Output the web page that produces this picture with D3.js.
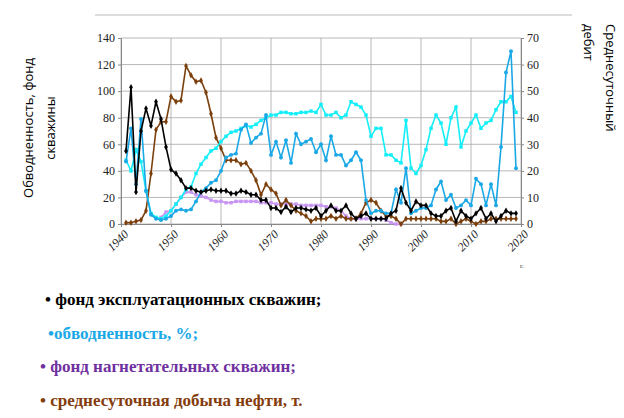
<!DOCTYPE html>
<html><head><meta charset="utf-8">
<script src="https://cdn.jsdelivr.net/npm/d3@7"></script>
<style>body{margin:0;background:#fff}</style>
</head><body>
<svg id="chart" width="624" height="418"></svg>
<script>
// годы и ряды (значения в единицах левой оси)
var years = d3.range(1941, 2020);
var fondExpl = [55,103,24,70,87,74,92,79,58,41,38,33,27,27,25,24,25,26,25,25,25,23,23,25,24,22,22,18,18,12,12,9,13,9,12,12,11,10,12,6,10,14,10,10,14,8,4,6,8,4,4,4,4,8,10,27,16,10,17,14,14,8,6,6,10,12,2,10,6,4,8,12,4,8,2,6,10,8,8];
var obvod = [48,40,56,47,25,8,5,4,6,10,15,20,26,28,38,45,50,55,57,62,66,69,70,72,74,73,75,78,80,82,82,84,84,83,83,84,84,85,84,90,82,82,84,80,82,92,90,88,82,66,72,72,52,52,48,46,78,42,38,44,56,72,82,76,60,80,88,58,70,76,82,72,76,78,86,92,92,96,84];
var debit = [47,72,30,79,25,7,4,3,4,6,10,11,10,11,17,24,27,31,33,40,50,52,53,71,75,61,65,68,82,52,62,50,63,46,68,60,62,64,54,60,48,66,52,52,44,48,54,48,18,8,10,10,8,8,26,16,42,8,10,12,12,14,26,32,18,22,12,14,18,14,34,30,14,30,14,58,114,130,42];
var nagnYears = d3.range(1948, 1997);
var fondNagn = [5,9,10,15,20,24,24,22,21,20,18,17,17,16,16,17,17,17,17,17,16,16,16,15,15,15,15,15,14,14,14,14,14,13,13,12,10,6,4,4,4,4,4,4,4,3,1,0,0];
var dobycha = [1,1,2,3,10,38,71,77,77,96,92,93,119,112,107,108,99,83,65,57,48,48,48,45,46,40,33,22,30,26,23,14,18,14,10,8,6,2,4,4,4,6,4,6,4,4,4,8,16,18,16,10,6,6,4,0,4,4,4,4,4,4,4,2,2,4,0,2,4,2,0,2,2,4,4,4,4,4,4];
var leftTicks = d3.range(0, 141, 20);
var rightTicks = d3.range(0, 71, 10);
var xTicks = d3.range(1940, 2021, 10);
var legendItems = [
  {text: '• фонд эксплуатационных скважин;', color: '#000000'},
  {text: '•обводненность, %;', color: '#1aa8e6'},
  {text: '• фонд нагнетательных скважин;', color: '#7030a0'},
  {text: '• среднесуточная добыча нефти, т.', color: '#843c0c'}
];

var svg = d3.select('#chart');
var x = d3.scaleLinear().domain([1940, 2020]).range([121, 521]);
var yL = d3.scaleLinear().domain([0, 140]).range([224, 38]);
var yR = d3.scaleLinear().domain([0, 70]).range([224, 38]);
var serif = "'Liberation Serif', 'DejaVu Serif', serif";

// рамка сверху
svg.append('line').attr('x1', 95).attr('x2', 572).attr('y1', 15).attr('y2', 15)
  .attr('stroke', '#bbb');

// сетка
svg.selectAll('.gy').data(leftTicks).enter().append('line')
  .attr('x1', 121).attr('x2', 521).attr('y1', d => yL(d)).attr('y2', d => yL(d))
  .attr('stroke', '#a6a6a6').attr('stroke-width', 0.8);
svg.selectAll('.gx').data(xTicks).enter().append('line')
  .attr('x1', d => x(d)).attr('x2', d => x(d)).attr('y1', 38).attr('y2', 224)
  .attr('stroke', '#a6a6a6').attr('stroke-width', 0.8);

var axL = svg.append('g').attr('transform', 'translate(121,0)')
  .call(d3.axisLeft(yL).tickValues(leftTicks).tickSize(3));
var axR = svg.append('g').attr('transform', 'translate(521,0)')
  .call(d3.axisRight(yR).tickValues(rightTicks).tickSize(3));
var axB = svg.append('g').attr('transform', 'translate(0,224)')
  .call(d3.axisBottom(x).tickValues(xTicks).tickFormat(d3.format('d')).tickSize(3));
[axL, axR, axB].forEach(function(a) {
  a.selectAll('path,line').attr('stroke', '#888');
  a.selectAll('text').style('font-family', serif).attr('font-size', 12).attr('fill', '#222');
});
axB.selectAll('text').attr('text-anchor', 'end').attr('dx', '-0.2em').attr('dy', '0.6em')
  .attr('font-style', 'italic').attr('transform', 'rotate(-45)');
svg.append('text').attr('x', 520).attr('y', 268).text('г.').style('font-family', serif)
  .attr('font-size', 7).attr('fill', '#444');

function series(xs, vals, color, scale, shape) {
  var data = xs.map((d, i) => [d, vals[i]]);
  svg.append('path').datum(data)
    .attr('d', d3.line().x(d => x(d[0])).y(d => scale(d[1])))
    .attr('fill', 'none').attr('stroke', color).attr('stroke-width', 1.6);
  svg.append('g').selectAll('path').data(data).enter().append('path')
    .attr('transform', d => 'translate(' + x(d[0]) + ',' + scale(d[1]) + ')')
    .attr('d', d3.symbol().type(shape).size(12)).attr('fill', color);
}
series(nagnYears, fondNagn, '#c896f2', yL, d3.symbolSquare);
series(years, dobycha, '#7b3f0c', yL, d3.symbolDiamond);
series(years, obvod, '#14eef8', yL, d3.symbolSquare);
series(years, debit, '#1aa8e6', yL, d3.symbolCircle);
series(years, fondExpl, '#000000', yL, d3.symbolDiamond);

// подписи осей
var sans = "'Open Sans', 'DejaVu Sans', sans-serif";
[['Обводненность, фонд', 33], ['скважины', 55]].forEach(function(t) {
  svg.append('text').attr('transform', 'translate(' + t[1] + ',128) rotate(-90)')
    .attr('text-anchor', 'middle').style('font-family', sans).attr('font-size', 13).text(t[0]);
});
[['Среднесуточный', 606], ['дебит', 584]].forEach(function(t) {
  svg.append('text').attr('transform', 'translate(' + t[1] + ',24) rotate(90)')
    .attr('text-anchor', 'start').style('font-family', sans).attr('font-size', 13).text(t[0]);
});

// легенда
svg.selectAll('.lg').data(legendItems).enter().append('text')
  .attr('x', (d, i) => [45, 48, 40, 40][i]).attr('y', (d, i) => 305 + i * 33.5)
  .style('font-family', serif).attr('font-weight', 'bold').attr('font-size', 17)
  .attr('fill', d => d.color).text(d => d.text);
</script>
</body></html>
